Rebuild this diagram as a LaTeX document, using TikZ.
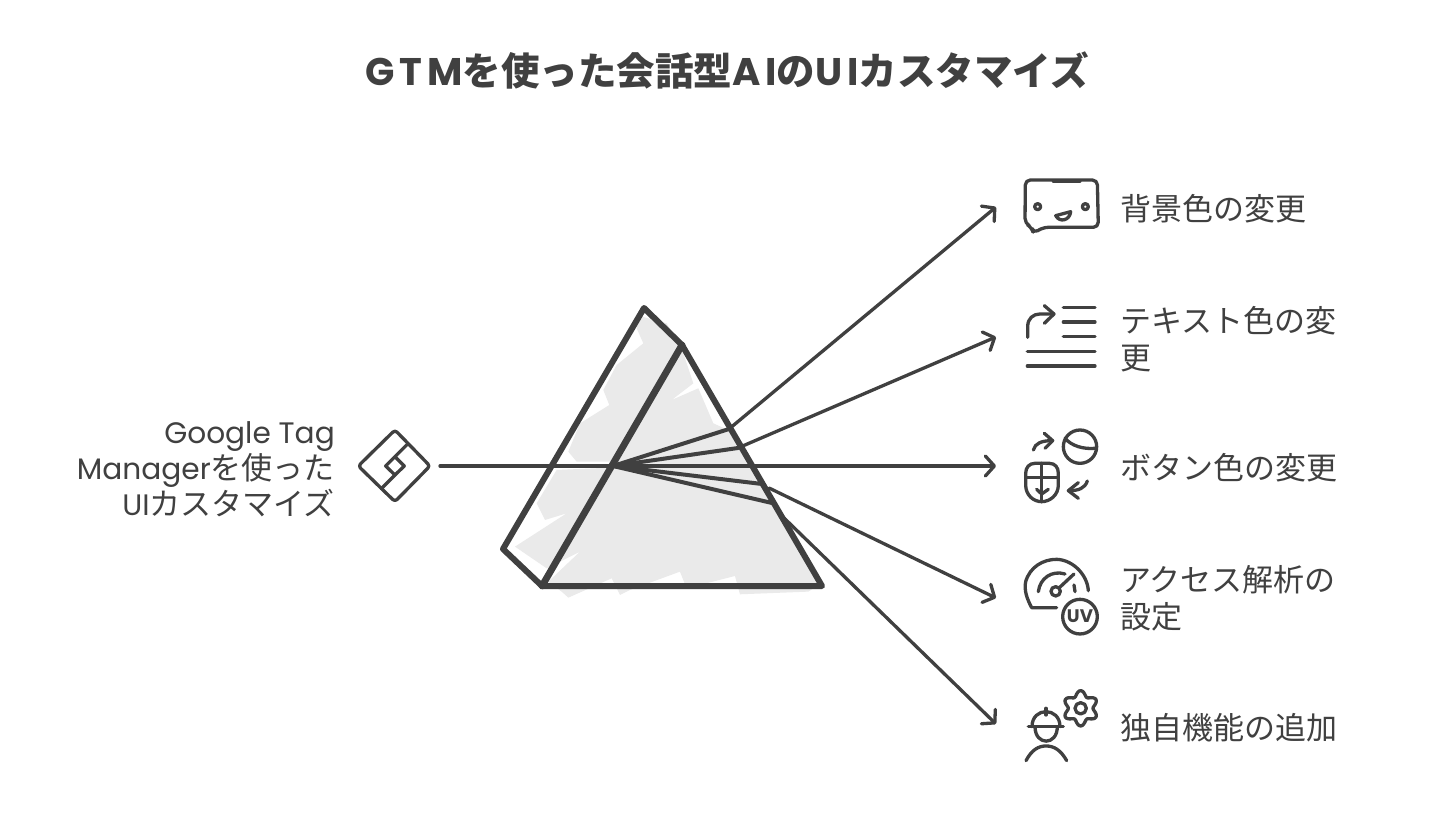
\documentclass[tikz,border=0pt]{standalone}
\usepackage{fontspec}
\usepackage{tikz}
\usetikzlibrary{arrows.meta}
\setmainfont{Noto Sans CJK JP}
\newfontfamily\latinhand{Poppins}[Scale=0.955]
\newfontfamily\titlehand{Poppins}[LetterSpace=13]
\newcommand{\hand}[1]{{\latinhand #1}}
\newcommand{\headhand}[1]{{\titlehand #1}}

\begin{document}
\begin{tikzpicture}[x=1pt,y=-1pt,>={Straight Barb[length=9pt,width=20pt,round]},line cap=round,line join=round]
  \definecolor{ink}{HTML}{404040}
  \definecolor{wash}{HTML}{EAEAEA}
  \tikzstyle{ray}=[draw=ink,line width=3.3pt]
  \tikzstyle{beam}=[draw=ink,line width=4pt]
  \tikzstyle{prism}=[draw=ink,line width=6pt]
  \tikzstyle{icon}=[draw=ink,line width=3.3pt]
  \tikzstyle{itemtext}=[anchor=west,inner sep=0pt,text=ink,font=\fontsize{31}{37}\selectfont,align=left]
  \useasboundingbox (0,0) rectangle (1456,821);
  \fill[white] (0,0) rectangle (1456,821);

  \node[text=ink,inner sep=0pt,font=\fontsize{38.5}{42}\selectfont\bfseries] (title) at (727,70)
    {\headhand{GTM}を使った会話型\headhand{AI}の\headhand{UI}カスタマイズ};

  % wash behind the prism
  \begin{scope}[shift={(490pt,-295pt)},x=0.3333pt,y=-0.3333pt]
    \fill[wash] (445,62) -- (530,85) -- (575,160) -- (610,265) -- (545,315) -- (625,280)
      -- (670,385) -- (725,410) -- (790,520) -- (850,620) -- (985,870) -- (955,890)
      -- (750,898) -- (735,843) -- (590,880) -- (570,830) -- (420,885) -- (390,900)
      -- (365,850) -- (235,908) -- (215,890) -- (175,860) -- (270,770) -- (170,820)
      -- (75,755) -- (230,655) -- (165,675) -- (140,625) -- (200,525) -- (360,518)
      -- (360,500) -- (260,500) -- (235,470) -- (270,385) -- (358,330) -- (340,285)
      -- (380,210) -- (460,145) -- (440,100) -- cycle;
  \end{scope}

  \coordinate (source) at (440,466);
  \coordinate (split) at (613,466);
  \coordinate (tip_bg) at (996,207);
  \coordinate (tip_text) at (996,337);
  \coordinate (tip_btn) at (996,466);
  \coordinate (tip_stat) at (996,598);
  \coordinate (tip_own) at (996,724);
  \coordinate (out_bg) at (729,429);
  \coordinate (out_text) at (738,448);
  \coordinate (edge_btn) at (752,466);
  \coordinate (in_stat) at (762,484);
  \coordinate (out_stat) at (769,488);
  \coordinate (in_own) at (772,503);
  \coordinate (out_own) at (783,517);

  \draw[ray,->] (source) -- (tip_btn);
  \draw[ray,->] (out_bg) -- (tip_bg);
  \draw[ray,->] (out_text) -- (tip_text);
  \draw[ray,->] (out_stat) -- (tip_stat);
  \draw[ray,->] (out_own) -- (tip_own);
  \draw[beam] (split) -- (out_bg);
  \draw[beam] (split) -- (out_text);
  \draw[beam] (split) -- (edge_btn);
  \draw[beam] (split) -- (in_stat);
  \draw[beam] (split) -- (in_own);

  \coordinate (P_1) at (644,308);
  \coordinate (P_2) at (682,345);
  \coordinate (P_3) at (822,586);
  \coordinate (P_4) at (542,586);
  \coordinate (P_5) at (503,549);
  \draw[prism] (P_1) -- (P_2) -- (P_3) -- (P_4) -- (P_5) -- cycle;
  \draw[prism,line width=6.8pt] (P_2) -- (P_4);

  % left label and tag icon
  \node[anchor=east,inner sep=0pt,text=ink,align=right,font=\fontsize{31}{36}\selectfont] (gtm) at (335,469)
    {\hand{Google Tag}\\\hand{Manager}を使った\\\hand{UI}カスタマイズ};
  \begin{scope}[shift={(70pt,-410pt)},x=0.3333pt,y=-0.3333pt]
    \draw[icon,rounded corners=3pt] (975,60) -- (1080,168) -- (975,275) -- (865,168) -- cycle;
    \draw[icon] (1012,103) -- (947,168) -- (975,195) -- (1003,168) -- (975,140);
    \draw[icon] (975,195) -- (934,236);
  \end{scope}

  % speech bubble
  \begin{scope}[shift={(1010pt,-170pt)},x=0.3333pt,y=-0.3333pt]
    \draw[icon,rounded corners=5pt] (46,30) -- (262,30) -- (265,172) -- (100,172)
      -- (70,190) -- (65,172) -- (45,160) -- cycle;
    \draw[icon] (130,33) -- (210,33);
    \draw[icon] (83,110) circle [radius=9];
    \draw[icon] (226,110) circle [radius=9];
    \draw[icon] (137,137) -- (182,125) .. controls (180,150) and (150,160) .. cycle;
    % text lines with arrow
    \draw[icon] (53,502) -- (53,470) .. controls (53,445) and (70,432) .. (90,432) -- (130,432);
    \draw[icon] (103,407) -- (132,432) -- (103,460);
    \foreach \y in {412,456,500} {
      \draw[icon] (160,\y) -- (255,\y);
    }
    \draw[icon] (52,545) -- (255,545);
    \draw[icon] (52,588) -- (255,588);
  \end{scope}

  \begin{scope}[shift={(1010pt,-420pt)},x=0.3333pt,y=-0.3333pt]
    % button icon
    \draw[icon] (70,90) .. controls (75,70) and (95,62) .. (125,62);
    \draw[icon] (103,40) -- (128,62) -- (105,85);
    \draw[icon] (210,80) circle [radius=50];
    \draw[icon] (165,55) .. controls (185,78) and (220,88) .. (255,85);
    \draw[icon] (75,130) -- (118,130) .. controls (135,130) and (145,142) .. (145,160) -- (145,195)
      .. controls (145,225) and (120,245) .. (95,245) .. controls (70,245) and (47,225) .. (47,195)
      -- (47,160) .. controls (47,142) and (58,130) .. (75,130);
    \draw[icon] (95,130) -- (95,245);
    \draw[icon] (47,172) -- (145,172);
    \draw[icon] (80,208) -- (95,222) -- (115,208);
    \draw[icon] (232,183) .. controls (225,205) and (205,212) .. (178,212);
    \draw[icon] (205,188) -- (175,212) -- (205,235);
    % gauge icon
    \draw[icon] (140,563) -- (65,563) .. controls (50,535) and (42,510) .. (47,485)
      .. controls (60,440) and (100,418) .. (140,418) .. controls (190,420) and (232,465) .. (235,512);
    \draw[icon] (85,515) .. controls (90,475) and (125,450) .. (165,462);
    \draw[icon] (137,514) circle [radius=14];
    \draw[icon] (148,503) -- (192,462);
    \draw[icon] (192,495) -- (195,515);
    \draw[icon] (210,590) circle [radius=52];
    \node[inner sep=0pt,text=ink,font=\fontsize{19}{19}\selectfont\bfseries\latinhand] (uv) at (210,590) {UV};
    % worker icon
    \draw[icon] (55,920) -- (160,920);
    \draw[icon] (66,920) .. controls (66,860) and (150,860) .. (150,920);
    \draw[icon] (75,920) .. controls (75,978) and (142,978) .. (142,920);
    \draw[icon] (108,865) -- (108,885);
    \draw[icon] (48,1022) .. controls (65,990) and (85,978) .. (108,978) .. controls (132,978) and (152,990) .. (170,1022);
    \draw[icon] plot[smooth cycle,samples=72,domain=0:355] ({212+(45-8*cos(6*\x))*cos(\x)},{865+(45-8*cos(6*\x))*sin(\x)});
    \draw[icon] (212,865) circle [radius=17];
  \end{scope}

  \node[itemtext] (bg) at (1120,209) {背景色の変更};
  \node[itemtext] (text) at (1120,339) {テキスト色の変\\更};
  \node[itemtext] (btn) at (1120,468) {ボタン色の変更};
  \node[itemtext] (stat) at (1120,598) {アクセス解析の\\設定};
  \node[itemtext] (own) at (1120,728) {独自機能の追加};
\end{tikzpicture}
\end{document}
